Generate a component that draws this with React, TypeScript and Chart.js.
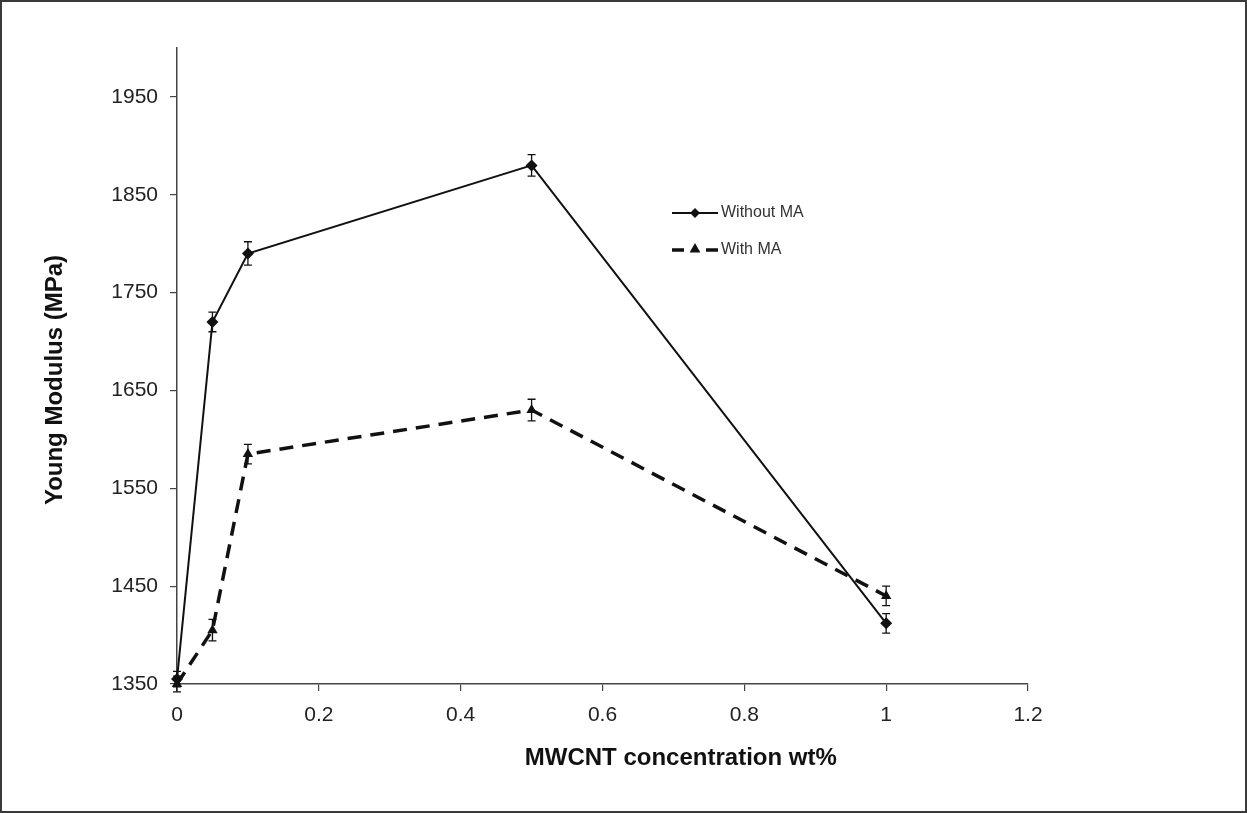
import React, { useEffect, useRef } from "react";
import { Chart, registerables } from "chart.js";

Chart.register(...registerables);

const concentrations = [0, 0.05, 0.1, 0.5, 1];
const withoutMA = [1355, 1720, 1790, 1880, 1412];
const withoutMAErr = [8, 10, 12, 11, 10];
const withMA = [1350, 1405, 1585, 1630, 1440];
const withMAErr = [8, 11, 10, 11, 10];
const xTicks = [0, 0.2, 0.4, 0.6, 0.8, 1, 1.2];
const yTicks = [1350, 1450, 1550, 1650, 1750, 1850, 1950];
const seriesNames = ["Without MA", "With MA"];
const xTitle = "MWCNT concentration wt%";
const yTitle = "Young Modulus (MPa)";
const errors = [withoutMAErr, withMAErr];

const FONT = "'Liberation Sans', Arial, sans-serif";
const INK = "#111";

function drawDiamond(ctx: CanvasRenderingContext2D, x: number, y: number, r: number) {
  ctx.beginPath();
  ctx.moveTo(x, y - r);
  ctx.lineTo(x + r, y);
  ctx.lineTo(x, y + r);
  ctx.lineTo(x - r, y);
  ctx.closePath();
  ctx.fill();
}
function drawTriangle(ctx: CanvasRenderingContext2D, x: number, y: number, r: number) {
  ctx.beginPath();
  ctx.moveTo(x, y - r);
  ctx.lineTo(x + r * 0.9, y + r * 0.6);
  ctx.lineTo(x - r * 0.9, y + r * 0.6);
  ctx.closePath();
  ctx.fill();
}

const errorBarPlugin = {
  id: "errorBars",
  afterDatasetsDraw(chart: any) {
    const ctx = chart.ctx;
    const yScale = chart.scales.y;
    ctx.save();
    ctx.strokeStyle = INK;
    ctx.lineWidth = 1.3;
    chart.data.datasets.forEach((ds: any, di: number) => {
      const meta = chart.getDatasetMeta(di);
      meta.data.forEach((pt: any, i: number) => {
        const v = ds.data[i].y;
        const e = errors[di][i];
        const x = pt.x;
        const yTop = yScale.getPixelForValue(v + e);
        const yBot = yScale.getPixelForValue(v - e);
        ctx.beginPath();
        ctx.moveTo(x, yTop);
        ctx.lineTo(x, yBot);
        ctx.moveTo(x - 4, yTop);
        ctx.lineTo(x + 4, yTop);
        ctx.moveTo(x - 4, yBot);
        ctx.lineTo(x + 4, yBot);
        ctx.stroke();
      });
    });
    ctx.restore();
  },
};

const legendAndFramePlugin = {
  id: "legendAndFrame",
  afterDraw(chart: any) {
    const ctx = chart.ctx;
    const area = chart.chartArea;
    ctx.save();
    // axis titles
    ctx.fillStyle = INK;
    ctx.font = `bold 24px ${FONT}`;
    ctx.textAlign = "center";
    ctx.textBaseline = "middle";
    ctx.fillText(xTitle, area.left + (area.right - area.left) * 0.592, area.bottom + 74);
    ctx.save();
    ctx.translate(area.left - 122, area.top + (area.bottom - area.top) * 0.522);
    ctx.rotate(-Math.PI / 2);
    ctx.fillText(yTitle, 0, 0);
    ctx.restore();
    // legend
    const lx = 672;
    const ly = [213, 250];
    ctx.fillStyle = INK;
    ctx.strokeStyle = INK;
    ctx.lineWidth = 2;
    ctx.beginPath();
    ctx.moveTo(lx, ly[0]);
    ctx.lineTo(lx + 46, ly[0]);
    ctx.stroke();
    drawDiamond(ctx, lx + 23, ly[0], 5);
    ctx.lineWidth = 3.5;
    ctx.beginPath();
    ctx.moveTo(lx, ly[1]);
    ctx.lineTo(lx + 12, ly[1]);
    ctx.moveTo(lx + 34, ly[1]);
    ctx.lineTo(lx + 46, ly[1]);
    ctx.stroke();
    drawTriangle(ctx, lx + 23, ly[1] - 1, 6);
    ctx.fillStyle = "#333";
    ctx.font = `16px ${FONT}`;
    ctx.textBaseline = "middle";
    ctx.textAlign = "left";
    ctx.fillText(seriesNames[0], lx + 49, ly[0]);
    ctx.fillText(seriesNames[1], lx + 49, ly[1]);
    // frame
    ctx.strokeStyle = "#3a3a3a";
    ctx.lineWidth = 2;
    ctx.strokeRect(1, 1, chart.width - 2, chart.height - 2);
    ctx.restore();
  },
};

export default function App() {
  const ref = useRef<HTMLCanvasElement>(null);
  useEffect(() => {
    if (!ref.current) return;
    const chart = new Chart(ref.current, {
      type: "line",
      data: {
        datasets: [
          {
            label: seriesNames[0],
            data: concentrations.map((x, i) => ({ x, y: withoutMA[i] })),
            borderColor: INK,
            backgroundColor: INK,
            borderWidth: 2,
            pointStyle: "rectRot",
            pointRadius: 6,
            pointBorderWidth: 0,
            pointBackgroundColor: INK,
            tension: 0,
            clip: false,
          },
          {
            label: seriesNames[1],
            data: concentrations.map((x, i) => ({ x, y: withMA[i] })),
            borderColor: INK,
            backgroundColor: INK,
            borderWidth: 3.5,
            borderDash: [14, 9],
            pointStyle: "triangle",
            pointRadius: 6,
            pointBorderWidth: 0,
            pointBackgroundColor: INK,
            tension: 0,
            clip: false,
          },
        ],
      },
      options: {
        responsive: false,
        animation: false,
        layout: { padding: { left: 40, right: 219, top: 48, bottom: 38 } },
        plugins: { legend: { display: false }, tooltip: { enabled: false } },
        scales: {
          x: {
            type: "linear",
            min: 0,
            max: 1.2,
            afterBuildTicks: (s: any) => {
              s.ticks = xTicks.map((v) => ({ value: v }));
            },
            afterFit: (s: any) => {
              s.height = 91;
            },
            grid: { display: true, drawOnChartArea: false, drawTicks: true, tickLength: 7, color: "#444", lineWidth: 1.2 },
            border: { display: true, color: "#444", width: 1.5 },
            ticks: {
              font: { family: FONT, size: 21 },
              color: "#222",
              padding: 12,
              maxRotation: 0,
              callback: (v: any) => String(v),
            },
          },
          y: {
            type: "linear",
            min: 1350,
            max: 2000,
            afterBuildTicks: (s: any) => {
              s.ticks = yTicks.map((v) => ({ value: v }));
            },
            afterFit: (s: any) => {
              s.width = 137;
            },
            grid: { display: true, drawOnChartArea: false, drawTicks: true, tickLength: 7, color: "#444", lineWidth: 1.2 },
            border: { display: true, color: "#444", width: 1.5 },
            ticks: {
              font: { family: FONT, size: 21 },
              color: "#222",
              padding: 12,
              callback: (v: any) => String(v),
            },
          },
        },
      },
      plugins: [errorBarPlugin, legendAndFramePlugin],
    } as any);
    return () => chart.destroy();
  }, []);
  return (
    <div style={{ position: "fixed", left: 0, top: 0, width: 1247, height: 813, background: "#fff" }}>
      <canvas ref={ref} width={1247} height={813} style={{ display: "block" }} />
    </div>
  );
}
